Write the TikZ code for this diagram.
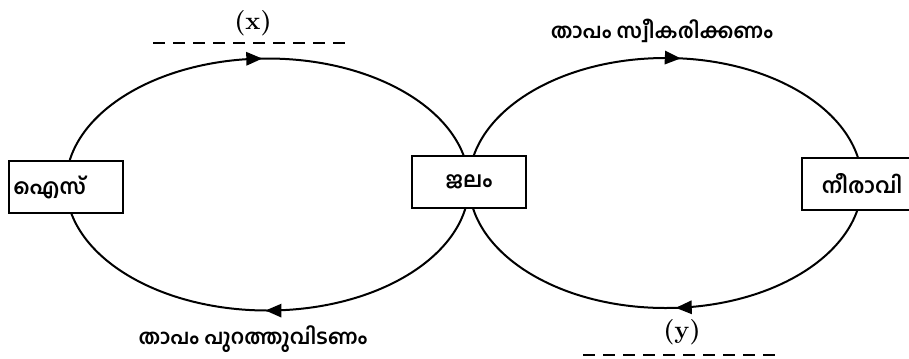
\documentclass[tikz,border=0pt]{standalone}
\usepackage{fontspec}
\newfontfamily\mlfont[Script=Malayalam]{Hind Kochi}
\usetikzlibrary{arrows.meta,decorations.markings}

\tikzset{every picture/.style={line width=0.75pt}}
\tikzset{
  phasebox/.style={draw, line width=1.5pt, fill=white, minimum width=85pt, minimum height=39pt,
    inner sep=0.75pt, font=\mlfont\bfseries\fontsize{16}{18}\selectfont},
  heatlbl/.style={inner sep=0.75pt, font=\mlfont\bfseries\fontsize{15.5}{17}\selectfont},
  blanklbl/.style={inner sep=0.75pt, font=\bfseries\fontsize{19}{21}\selectfont},
  blankline/.style={line width=2.2pt, dash pattern={on 9pt off 6pt}},
  cycleline/.style={line width=1.5pt, postaction={decorate}},
  arrowsat/.style 2 args={decoration={markings,
    mark=at position #1 with {\arrow{Triangle[length=12pt,width=10pt]}},
    mark=at position #2 with {\arrow{Triangle[length=12pt,width=10pt]}}}}
}

\begin{document}
\begin{tikzpicture}[x=0.75pt,y=0.75pt,yscale=-1,xscale=1]
\useasboundingbox (0,0) rectangle (909,358);

%Ellipse: ice -- water
\draw [cycleline, arrowsat={0.252}{0.745}] (267.5,184.5) ellipse [x radius=201.5, y radius=126];
%Ellipse: water -- steam
\draw [cycleline, arrowsat={0.24}{0.765}] (665.5,183) ellipse [x radius=196.5, y radius=125];

% Phase boxes
\node (ice) at (66,187) [phasebox, minimum width=0pt, text width=79pt, align=left, inner xsep=3pt] {ഐസ്};
\node (water) at (469,182) [phasebox] {ജലം};
\node (steam) at (862,183.5) [phasebox, minimum width=90pt] {നീരാവി};

% Text Node
\node (xlbl) at (253,23) [blanklbl] {(x)};
\node (ylbl) at (682,332) [blanklbl] {(y)};
\node (absorb) at (662,31) [heatlbl] {താപം സ്വീകരിക്കണം};
\node (release) at (253,339) [heatlbl] {താപം പുറത്തുവിടണം};

%Straight Lines
\draw [blankline] (153,43) -- (352,43);
\draw [blankline] (583,355) -- (775,355);

\end{tikzpicture}
\end{document}
